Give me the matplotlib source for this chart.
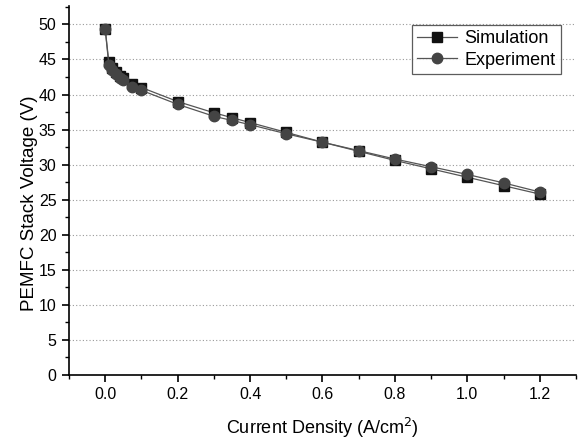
import matplotlib
matplotlib.use("Agg")
import matplotlib.pyplot as plt
from matplotlib.ticker import MultipleLocator, FormatStrFormatter

plt.rcParams['font.family'] = ['Liberation Sans', 'DejaVu Sans']

# Polarization data for the PEMFC stack
current_density = [0.0, 0.01, 0.02, 0.03, 0.04, 0.05, 0.075, 0.1, 0.2, 0.3,
                   0.35, 0.4, 0.5, 0.6, 0.7, 0.8, 0.9, 1.0, 1.1, 1.2]
sim_voltage = [49.3, 44.6, 43.8, 43.2, 42.7, 42.3, 41.5, 41.0, 39.0, 37.4,
               36.7, 36.0, 34.6, 33.2, 31.9, 30.6, 29.4, 28.2, 27.0, 25.8]
exp_voltage = [49.3, 44.2, 43.5, 42.9, 42.4, 42.0, 41.1, 40.6, 38.6, 36.9,
               36.3, 35.7, 34.4, 33.2, 32.0, 30.8, 29.7, 28.6, 27.4, 26.1]

fig = plt.figure(figsize=(5.82, 4.41), dpi=100)
ax = fig.add_axes([0.1186, 0.1497, 0.871, 0.8363])

ax.plot(current_density, sim_voltage, color='#555555', lw=0.9, marker='s',
        ms=7, mfc='#111111', mec='#111111', label='Simulation', zorder=3)
ax.plot(current_density, exp_voltage, color='#555555', lw=0.9, marker='o',
        ms=7.5, mfc='#444444', mec='#444444', label='Experiment', zorder=4)

ax.set_xlim(-0.1, 1.3)
ax.set_ylim(0, 52.6)
ax.xaxis.set_major_locator(MultipleLocator(0.2))
ax.xaxis.set_minor_locator(MultipleLocator(0.1))
ax.yaxis.set_major_locator(MultipleLocator(5))
ax.yaxis.set_minor_locator(MultipleLocator(2.5))
ax.xaxis.set_major_formatter(FormatStrFormatter('%.1f'))

ax.spines['top'].set_visible(False)
ax.spines['right'].set_visible(False)
for s in ('left', 'bottom'):
    ax.spines[s].set_linewidth(1.2)

ax.tick_params(which='major', direction='out', length=5, width=1.2,
               labelsize=11.5, pad=4)
ax.tick_params(which='minor', direction='out', length=3, width=1.0)

ax.grid(axis='y', which='major', linestyle=(0, (1, 2)), color='#999999', lw=0.8)
ax.set_axisbelow(True)

ax.set_xlabel('Current Density (A/cm$^2$)', fontsize=13)
ax.xaxis.set_label_coords(0.5, -0.11)
ax.set_ylabel('PEMFC Stack Voltage (V)', fontsize=13.5)
ax.yaxis.set_label_coords(-0.062, 0.466)

leg = ax.legend(loc='upper right', fontsize=13, frameon=True, fancybox=False,
                borderpad=0.3, handlelength=2.2, labelspacing=0.25,
                handletextpad=0.4, borderaxespad=0,
                bbox_to_anchor=(0.97, 0.95))
leg.get_frame().set_edgecolor('#333333')
leg.get_frame().set_linewidth(0.9)

fig.savefig('out.png', dpi=100)
